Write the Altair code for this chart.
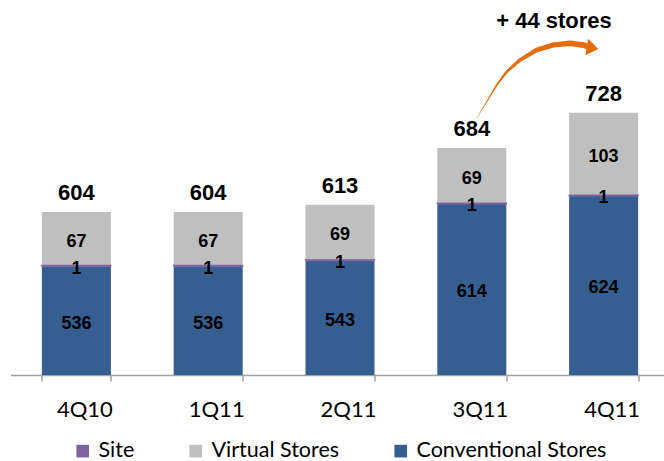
import altair as alt
import pandas as pd

# ---- data ----
quarters = ["4Q10", "1Q11", "2Q11", "3Q11", "4Q11"]
conventional = [536, 536, 543, 614, 624]
site = [1, 1, 1, 1, 1]
virtual = [67, 67, 69, 69, 103]
totals = [604, 604, 613, 684, 728]

series_names = ["Site", "Virtual Stores", "Conventional Stores"]
series_colors = ["#8064A2", "#BFBFBF", "#365F91"]

# annotation arrow path (x in category-index units, y in store units)
arrow_u = [3.537, 3.613, 3.689, 3.765, 3.866, 3.992, 4.118, 4.245, 4.346, 4.384]
arrow_v = [721.0, 741.8, 762.7, 779.3, 794.0, 806.5, 812.7, 814.8, 812.7, 810.6]
arrow_w = [0.3, 1.0, 1.8, 2.6, 3.6, 4.6, 5.2, 5.6, 5.8, 5.8]
head_u = [4.416]
head_v = [808.9]
note_u = [4.124]
note_v = [843.0]

Y_MIN, Y_MAX = 400, 869
ORANGE = "#E46C0A"

rows = []
for i, q in enumerate(quarters):
    c, s, v = conventional[i], site[i], virtual[i]
    rows.append(dict(quarter=q, series="Conventional Stores", value=c,
                     start=0, end=c, label_y=(Y_MIN + c) / 2))
    rows.append(dict(quarter=q, series="Site", value=s,
                     start=c, end=c + s, label_y=c + s / 2))
    rows.append(dict(quarter=q, series="Virtual Stores", value=v,
                     start=c + s, end=c + s + v, label_y=c + s + v / 2))
df = pd.DataFrame(rows)
tot = pd.DataFrame({"quarter": quarters, "total": totals})
arrow_df = pd.DataFrame({"u": arrow_u, "v": arrow_v, "w": arrow_w,
                         "i": list(range(len(arrow_u)))})
head_df = pd.DataFrame({"u": head_u, "v": head_v})
note_df = pd.DataFrame({"u": note_u, "v": note_v,
                        "t": [f"+ {totals[4] - totals[3]} stores"]})

band = alt.Scale(range=[0, 659], paddingInner=0.4765, paddingOuter=0.238)
y_scale = alt.Scale(domain=[Y_MIN, Y_MAX], zero=False, nice=False)
u_scale = alt.Scale(domain=[0, 5], range=[0, 659], zero=False, nice=False)

x_axis = alt.X("quarter:N", sort=quarters, title=None, scale=band,
               axis=alt.Axis(labelFont="Lato", labelFontSize=22, labelColor="#000000",
                             labelAngle=0, labelPadding=28, labelBaseline="middle",
                             labelOffset=8,
                             domainColor="#A0A0A0", domainWidth=1.5,
                             tickColor="#A0A0A0", tickWidth=1.5, tickSize=6,
                             tickBand="extent", grid=False))
x_plain = alt.X("quarter:N", sort=quarters, title=None, scale=band, axis=None)

bars = alt.Chart(df).mark_bar(clip=True).encode(
    x=x_axis,
    y=alt.Y("start:Q", scale=y_scale, axis=None),
    y2="end:Q",
    color=alt.Color("series:N",
                    scale=alt.Scale(domain=series_names, range=series_colors),
                    legend=alt.Legend(title=None, orient="none", legendX=61.5, legendY=440,
                                      direction="horizontal",
                                      symbolType="square",
                                      symbolSize=160, symbolStrokeWidth=0,
                                      labelFont="Lato", labelFontSize=21.5,
                                      labelColor="#000000", columnPadding=50,
                                      labelOffset=5, labelLimit=400, padding=0)),
)

site_line = alt.Chart(df).transform_filter("datum.series === 'Site'").mark_bar(
    clip=True, fill="#8064A2", stroke="#8064A2", strokeWidth=1.2
).encode(x=x_plain, y=alt.Y("start:Q", scale=y_scale, axis=None), y2="end:Q")

inner = alt.Chart(df).mark_text(
    font="Liberation Sans", fontWeight="bold", fontSize=18, color="#000000",
    baseline="middle", dy=3
).encode(x=x_plain, y=alt.Y("label_y:Q", scale=y_scale, axis=None),
         text="value:Q")

total_text = alt.Chart(tot).mark_text(
    font="Liberation Sans", fontWeight="bold", fontSize=22, color="#000000",
    baseline="middle", dy=-19
).encode(x=x_plain, y=alt.Y("total:Q", scale=y_scale, axis=None), text="total:Q")

arrow = alt.Chart(arrow_df).mark_trail(color=ORANGE).encode(
    x=alt.X("u:Q", scale=u_scale, axis=None),
    y=alt.Y("v:Q", scale=y_scale, axis=None),
    size=alt.Size("w:Q", scale=None, legend=None),
    order="i:Q",
)

head = alt.Chart(head_df).mark_point(
    shape="M-0.7,-1L0.7,0L-0.7,1Z", filled=True, size=279, angle=10,
    color=ORANGE, opacity=1, strokeWidth=0
).encode(x=alt.X("u:Q", scale=u_scale, axis=None),
         y=alt.Y("v:Q", scale=y_scale, axis=None))

note = alt.Chart(note_df).mark_text(
    font="Liberation Sans", fontWeight="bold", fontSize=22, color="#000000",
    baseline="middle"
).encode(x=alt.X("u:Q", scale=u_scale, axis=None),
         y=alt.Y("v:Q", scale=y_scale, axis=None), text="t:N")

chart = alt.layer(bars, site_line, inner, total_text, arrow, head, note).resolve_scale(
    x="independent"
).properties(
    width=653.5, height=375,
    padding={"left": 10.5, "top": 0, "right": 0, "bottom": 86},
    autosize=alt.AutoSizeParams(type="none"),
    background="#FFFFFF",
).configure_view(strokeWidth=0)

chart.save("out.html", embed_options={"renderer": "svg", "actions": False})
